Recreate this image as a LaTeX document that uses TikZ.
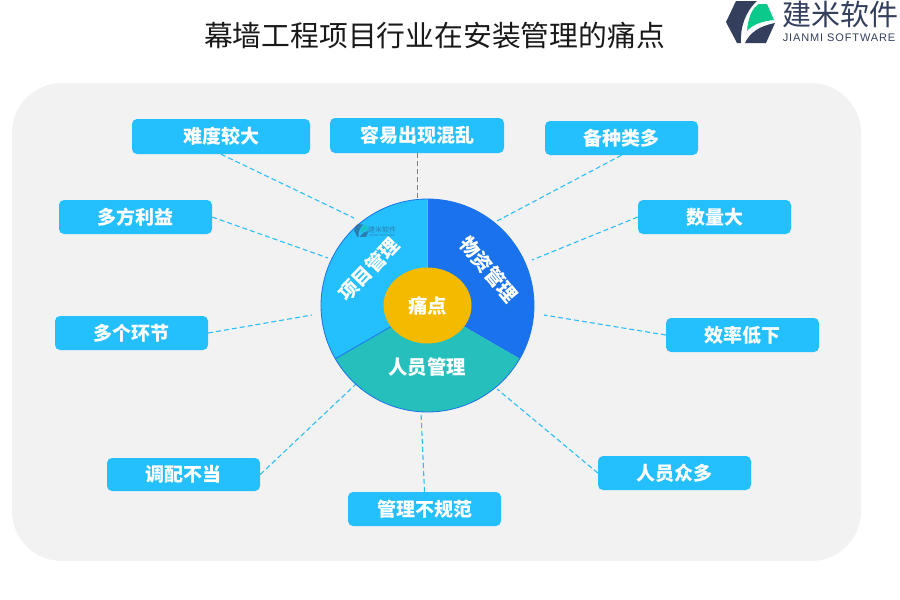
\documentclass[tikz,border=0pt]{standalone}
\usepackage{fontspec}
\setmainfont{Liberation Sans}
\newfontfamily\cjk{Noto Sans CJK SC}
\usetikzlibrary{calc}
\definecolor{panel}{HTML}{F2F2F2}
\definecolor{sky}{HTML}{24BFFD}
\definecolor{royal}{HTML}{1A73EC}
\definecolor{teal2}{HTML}{25BFBC}
\definecolor{amber}{HTML}{F4BA00}
\definecolor{dashblue}{HTML}{2DBEF5}
\definecolor{logoink}{HTML}{333F5C}
\definecolor{logogreen}{HTML}{0BC98A}
\tikzset{
  x=1pt,y=-1pt,
  tag/.style={fill=sky,rounded corners=5pt,minimum width=153pt,minimum height=34pt,inner sep=0pt,text=white,font=\cjk\bfseries\fontsize{19}{20}\selectfont},
  link/.style={dashed,dash pattern=on 5pt off 3pt,draw=dashblue,line width=1.1pt},
  greylink/.style={dashed,dash pattern=on 5pt off 3pt,draw=gray,line width=0.9pt},
  ringlabel/.style={text=white,inner sep=0pt,font=\cjk\bfseries\fontsize{19.4}{20}\selectfont},
}
\begin{document}
\begin{tikzpicture}
\useasboundingbox (0,0) rectangle (900,600);
\fill[white] (0,0) rectangle (900,600);
\fill[panel,rounded corners=50pt] (12,83) rectangle (861,561);

\node[inner sep=0pt,text=black!90,font=\cjk\fontsize{28.8}{30}\selectfont] (title) at (434.5,36) {幕墙工程项目行业在安装管理的痛点};

% logo
\fill[logoink] (726,22) -- (736,1) -- (757,1) .. controls (745,12) and (740,28) .. (741,43) -- (737,43) -- cycle;
\fill[logoink] (745,43) .. controls (750,32) and (760,26) .. (775,23) -- (766,43) -- cycle;
\fill[logogreen] (747,31) .. controls (748,18) and (752,8) .. (759,4) -- (767,4) -- (774,20) .. controls (762,21) and (752,25) .. (747,31) -- cycle;
\node[inner sep=0pt,text=logoink,font=\cjk\fontsize{29}{30}\selectfont] (logocn) at (840,14) {建米软件};
\node[inner sep=0pt,text=logoink,font=\fontsize{11}{12}\selectfont\addfontfeatures{LetterSpace=8}] (logoen) at (839,38) {JIANMI SOFTWARE};

% boxes
\node[tag,minimum width=178pt,minimum height=35pt] (a) at (221,136.5) {难度较大};
\node[tag,minimum width=174pt,minimum height=35pt] (b) at (417,135.5) {容易出现混乱};
\node[tag] (c) at (621.5,138) {备种类多};
\node[tag] (d) at (714.5,217) {数量大};
\node[tag] (e) at (742.5,335) {效率低下};
\node[tag] (f) at (674.5,473) {人员众多};
\node[tag] (g) at (424.5,509) {管理不规范};
\node[tag,minimum height=33pt] (h) at (183.5,474.5) {调配不当};
\node[tag] (i) at (131.5,333) {多个环节};
\node[tag] (j) at (135.5,217) {多方利益};

% free ends of connectors
\coordinate (ea) at (354,218);
\coordinate (eb) at (417,198);
\coordinate (ec) at (497,221);
\coordinate (ed) at (532,260);
\coordinate (ee) at (544,315);
\coordinate (ef) at (497,389);
\coordinate (eg) at (421,412);
\coordinate (eh) at (356,384);
\coordinate (ei) at (312,315);
\coordinate (ej) at (328,258);

\draw[link] (a.south) -- (ea);
\draw[greylink] (b.south) -- (eb);
\draw[link] (c.south) -- (ec);
\draw[link] (d.west) -- (ed);
\draw[link] (e.west) -- (ee);
\draw[link] (f.west) -- (ef);
\draw[link] (g.north) -- (eg);
\draw[link] (h.east) -- (eh);
\draw[link] (i.east) -- (ei);
\draw[link] (j.east) -- (ej);

% ring
\coordinate (o) at (427.5,305.5);
\def\R{106.5}
\fill[royal] (o) -- ($(o)+(0,-\R)$) arc[start angle=-90,end angle=30,radius=\R] -- cycle;
\fill[teal2] (o) -- ($(o)+({\R*cos(30)},{\R*sin(30)})$) arc[start angle=30,end angle=150,radius=\R] -- cycle;
\fill[sky] (o) -- ($(o)+({\R*cos(150)},{\R*sin(150)})$) arc[start angle=150,end angle=270,radius=\R] -- cycle;
\draw[royal,line width=0.8pt] (o) -- ($(o)+({\R*cos(150)},{\R*sin(150)})$);
\draw[royal,line width=0.8pt] (o) circle[radius=\R];
\fill[amber] (o) ellipse[x radius=44,y radius=38];

% watermark
\begin{scope}[opacity=0.5]
  \begin{scope}[shift={(354,224)},scale=0.3,shift={(-726,0)}]
    \fill[logoink] (726,22) -- (736,1) -- (757,1) .. controls (745,12) and (740,28) .. (741,43) -- (737,43) -- cycle;
    \fill[logoink] (745,43) .. controls (750,32) and (760,26) .. (775,23) -- (766,43) -- cycle;
    \fill[logogreen] (747,31) .. controls (748,18) and (752,8) .. (759,4) -- (767,4) -- (774,20) .. controls (762,21) and (752,25) .. (747,31) -- cycle;
  \end{scope}
  \node[inner sep=0pt,text=logoink,font=\cjk\fontsize{7}{8}\selectfont] (wmcn) at (382,229.5) {建米软件};
  \node[inner sep=0pt,text=logoink,font=\fontsize{2.8}{3}\selectfont] (wmen) at (382,236) {JIANMI SOFTWARE};
\end{scope}

\node[ringlabel,rotate=46] (r1) at (369,269) {项目管理};
\node[ringlabel,rotate=-50] (r2) at (489,269.5) {物资管理};
\node[ringlabel] (r3) at (427,367) {人员管理};
\node[ringlabel] (r4) at (427.5,306) {痛点};
\end{tikzpicture}
\end{document}
